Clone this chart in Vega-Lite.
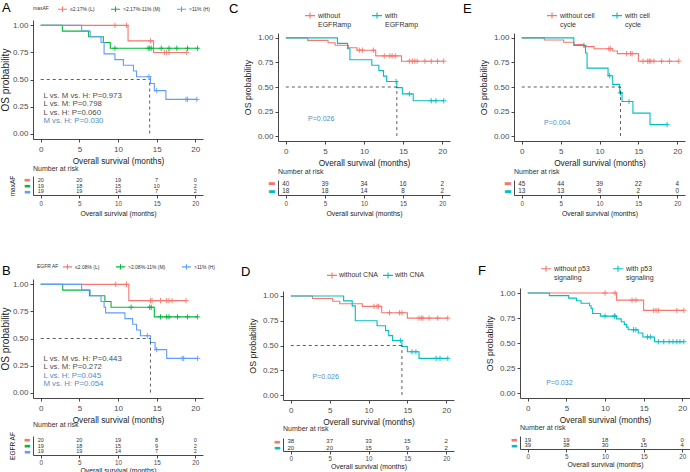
{
"$schema":"https://vega.github.io/schema/vega-lite/v6.json",
"padding":{"left":0,"top":1,"right":0,"bottom":0},
"background":"white",
"config":{"view":{"stroke":null},"font":"Liberation Sans",
 "axis":{"labelFont":"Liberation Sans","titleFont":"Liberation Sans","labelColor":"#4D4D4D","titleColor":"#222","titleFontWeight":"normal","domainColor":"#333","tickColor":"#333","grid":false,"domainWidth":0.9,"tickWidth":0.9,"labelFlush":false},
 "legend":{"labelFont":"Liberation Sans","titleFont":"Liberation Sans","labelColor":"#333","titleColor":"#333","titleFontWeight":"normal"},
 "title":{"font":"Liberation Sans","fontWeight":"normal","color":"#000"}},
"datasets":{
"spacer":[{"k":1}],
"A_km":[{"g":"≤2.17% (L)","t":0,"s":1},{"g":"≤2.17% (L)","t":11.3,"s":0.857},{"g":"≤2.17% (L)","t":14.6,"s":0.75},{"g":"≤2.17% (L)","t":18.9,"s":0.75},
{"g":">2.17%-11% (M)","t":0,"s":1},{"g":">2.17%-11% (M)","t":2.8,"s":0.947},{"g":">2.17%-11% (M)","t":6.2,"s":0.895},{"g":">2.17%-11% (M)","t":8.1,"s":0.842},{"g":">2.17%-11% (M)","t":9.0,"s":0.789},{"g":">2.17%-11% (M)","t":20.3,"s":0.789},
{"g":">11% (H)","t":0,"s":1},{"g":">11% (H)","t":5.3,"s":0.947},{"g":">11% (H)","t":6.4,"s":0.895},{"g":">11% (H)","t":7.8,"s":0.842},{"g":">11% (H)","t":8.2,"s":0.737},{"g":">11% (H)","t":9.6,"s":0.684},{"g":">11% (H)","t":10.7,"s":0.632},{"g":">11% (H)","t":12.0,"s":0.579},{"g":">11% (H)","t":12.4,"s":0.526},{"g":">11% (H)","t":14.2,"s":0.463},{"g":">11% (H)","t":14.7,"s":0.397},{"g":">11% (H)","t":16.2,"s":0.316},{"g":">11% (H)","t":20.2,"s":0.316}],
"A_cens":[{"g":"≤2.17% (L)","t":9.6,"s":1},{"g":"≤2.17% (L)","t":11.1,"s":1},{"g":"≤2.17% (L)","t":14.2,"s":0.857},{"g":"≤2.17% (L)","t":16.0,"s":0.75},{"g":"≤2.17% (L)","t":16.3,"s":0.75},{"g":"≤2.17% (L)","t":16.6,"s":0.75},{"g":"≤2.17% (L)","t":18.9,"s":0.75},
{"g":">2.17%-11% (M)","t":9.6,"s":0.789},{"g":">2.17%-11% (M)","t":13.9,"s":0.789},{"g":">2.17%-11% (M)","t":14.1,"s":0.789},{"g":">2.17%-11% (M)","t":14.3,"s":0.789},{"g":">2.17%-11% (M)","t":15.6,"s":0.789},{"g":">2.17%-11% (M)","t":16.6,"s":0.789},{"g":">2.17%-11% (M)","t":17.6,"s":0.789},{"g":">2.17%-11% (M)","t":19.0,"s":0.789},{"g":">2.17%-11% (M)","t":20.3,"s":0.789},
{"g":">11% (H)","t":14.0,"s":0.526},{"g":">11% (H)","t":15.0,"s":0.397},{"g":">11% (H)","t":18.8,"s":0.316},{"g":">11% (H)","t":19.0,"s":0.316},{"g":">11% (H)","t":20.2,"s":0.316}],
"A_med":[{"t":0,"s":0.5,"t2":14.1,"s2":0.5},{"t":14.1,"s":0,"t2":14.1,"s2":0.5}],
"A_p":[{"label":"L vs. M vs. H: P=0.973","t":0.35,"s":0.345,"sig":false},{"label":"L vs. M: P=0.798","t":0.35,"s":0.27,"sig":false},{"label":"L vs. H: P=0.060","t":0.35,"s":0.19,"sig":false},{"label":"M vs. H: P=0.030","t":0.35,"s":0.114,"sig":true}],
"A_risk":[{"g":"L","t":0,"n":20},{"g":"L","t":5,"n":20},{"g":"L","t":10,"n":19},{"g":"L","t":15,"n":7},{"g":"L","t":20,"n":0},
{"g":"M","t":0,"n":19},{"g":"M","t":5,"n":18},{"g":"M","t":10,"n":15},{"g":"M","t":15,"n":10},{"g":"M","t":20,"n":2},
{"g":"H","t":0,"n":19},{"g":"H","t":5,"n":19},{"g":"H","t":10,"n":14},{"g":"H","t":15,"n":7},{"g":"H","t":20,"n":2}],
"B_km":[{"g":"≤2.08% (L)","t":0,"s":1},{"g":"≤2.08% (L)","t":11.4,"s":0.85},{"g":"≤2.08% (L)","t":18.8,"s":0.85},
{"g":">2.08%-11% (M)","t":0,"s":1},{"g":">2.08%-11% (M)","t":2.85,"s":0.947},{"g":">2.08%-11% (M)","t":6.3,"s":0.895},{"g":">2.08%-11% (M)","t":8.3,"s":0.842},{"g":">2.08%-11% (M)","t":9.1,"s":0.789},{"g":">2.08%-11% (M)","t":14.7,"s":0.70},{"g":">2.08%-11% (M)","t":20.3,"s":0.70},
{"g":">11% (H)","t":0,"s":1},{"g":">11% (H)","t":5.3,"s":0.947},{"g":">11% (H)","t":6.4,"s":0.895},{"g":">11% (H)","t":7.8,"s":0.842},{"g":">11% (H)","t":8.2,"s":0.789},{"g":">11% (H)","t":8.4,"s":0.737},{"g":">11% (H)","t":10.9,"s":0.684},{"g":">11% (H)","t":11.9,"s":0.632},{"g":">11% (H)","t":12.4,"s":0.579},{"g":">11% (H)","t":12.9,"s":0.526},{"g":">11% (H)","t":14.2,"s":0.463},{"g":">11% (H)","t":14.8,"s":0.397},{"g":">11% (H)","t":16.3,"s":0.316},{"g":">11% (H)","t":20.3,"s":0.316}],
"B_cens":[{"g":"≤2.08% (L)","t":9.7,"s":1},{"g":"≤2.08% (L)","t":11.1,"s":1},{"g":"≤2.08% (L)","t":14.2,"s":0.85},{"g":"≤2.08% (L)","t":14.4,"s":0.85},{"g":"≤2.08% (L)","t":15.5,"s":0.85},{"g":"≤2.08% (L)","t":16.3,"s":0.85},{"g":"≤2.08% (L)","t":16.6,"s":0.85},{"g":"≤2.08% (L)","t":17.0,"s":0.85},{"g":"≤2.08% (L)","t":18.8,"s":0.85},
{"g":">2.08%-11% (M)","t":11.7,"s":0.789},{"g":">2.08%-11% (M)","t":14.1,"s":0.789},{"g":">2.08%-11% (M)","t":14.3,"s":0.789},{"g":">2.08%-11% (M)","t":15.5,"s":0.70},{"g":">2.08%-11% (M)","t":16.3,"s":0.70},{"g":">2.08%-11% (M)","t":16.6,"s":0.70},{"g":">2.08%-11% (M)","t":17.7,"s":0.70},{"g":">2.08%-11% (M)","t":19.0,"s":0.70},{"g":">2.08%-11% (M)","t":20.3,"s":0.70},
{"g":">11% (H)","t":13.8,"s":0.526},{"g":">11% (H)","t":15.0,"s":0.397},{"g":">11% (H)","t":18.3,"s":0.316},{"g":">11% (H)","t":18.5,"s":0.316},{"g":">11% (H)","t":20.3,"s":0.316}],
"B_med":[{"t":0,"s":0.5,"t2":14.2,"s2":0.5},{"t":14.2,"s":0,"t2":14.2,"s2":0.5}],
"B_p":[{"label":"L vs. M vs. H: P=0.443","t":0.35,"s":0.314,"sig":false},{"label":"L vs. M: P=0.272","t":0.35,"s":0.237,"sig":false},{"label":"L vs. H: P=0.045","t":0.35,"s":0.157,"sig":true},{"label":"M vs. H: P=0.054","t":0.35,"s":0.077,"sig":true}],
"B_risk":[{"g":"L","t":0,"n":20},{"g":"L","t":5,"n":20},{"g":"L","t":10,"n":19},{"g":"L","t":15,"n":8},{"g":"L","t":20,"n":0},
{"g":"M","t":0,"n":19},{"g":"M","t":5,"n":18},{"g":"M","t":10,"n":15},{"g":"M","t":15,"n":9},{"g":"M","t":20,"n":2},
{"g":"H","t":0,"n":19},{"g":"H","t":5,"n":19},{"g":"H","t":10,"n":14},{"g":"H","t":15,"n":7},{"g":"H","t":20,"n":2}],
"C_km":[{"g":"without EGFRamp","t":0,"s":1},{"g":"without EGFRamp","t":2.8,"s":0.975},{"g":"without EGFRamp","t":5.4,"s":0.95},{"g":"without EGFRamp","t":6.3,"s":0.925},{"g":"without EGFRamp","t":8.0,"s":0.90},{"g":"without EGFRamp","t":9.1,"s":0.875},{"g":"without EGFRamp","t":11.5,"s":0.817},{"g":"without EGFRamp","t":14.8,"s":0.763},{"g":"without EGFRamp","t":20.2,"s":0.763},
{"g":"with EGFRamp","t":0,"s":1},{"g":"with EGFRamp","t":6.6,"s":0.944},{"g":"with EGFRamp","t":7.9,"s":0.889},{"g":"with EGFRamp","t":8.2,"s":0.778},{"g":"with EGFRamp","t":11.0,"s":0.722},{"g":"with EGFRamp","t":11.9,"s":0.667},{"g":"with EGFRamp","t":12.5,"s":0.611},{"g":"with EGFRamp","t":12.9,"s":0.556},{"g":"with EGFRamp","t":14.2,"s":0.494},{"g":"with EGFRamp","t":14.9,"s":0.43},{"g":"with EGFRamp","t":16.3,"s":0.36},{"g":"with EGFRamp","t":20.2,"s":0.36}],
"C_cens":[{"g":"without EGFRamp","t":9.4,"s":0.875},{"g":"without EGFRamp","t":9.8,"s":0.875},{"g":"without EGFRamp","t":11.2,"s":0.875},{"g":"without EGFRamp","t":12.6,"s":0.817},{"g":"without EGFRamp","t":13.3,"s":0.817},{"g":"without EGFRamp","t":13.6,"s":0.817},{"g":"without EGFRamp","t":14.0,"s":0.817},{"g":"without EGFRamp","t":15.8,"s":0.763},{"g":"without EGFRamp","t":16.2,"s":0.763},{"g":"without EGFRamp","t":16.5,"s":0.763},{"g":"without EGFRamp","t":16.8,"s":0.763},{"g":"without EGFRamp","t":17.8,"s":0.763},{"g":"without EGFRamp","t":18.6,"s":0.763},{"g":"without EGFRamp","t":19.4,"s":0.763},{"g":"without EGFRamp","t":20.2,"s":0.763},
{"g":"with EGFRamp","t":14.1,"s":0.556},{"g":"with EGFRamp","t":15.8,"s":0.43},{"g":"with EGFRamp","t":18.6,"s":0.36},{"g":"with EGFRamp","t":19.2,"s":0.36},{"g":"with EGFRamp","t":20.2,"s":0.36}],
"C_med":[{"t":0,"s":0.5,"t2":14.2,"s2":0.5},{"t":14.2,"s":0,"t2":14.2,"s2":0.5}],
"C_p":[{"label":"P=0.026","t":2.85,"s":0.17,"sig":true}],
"C_risk":[{"g":"without","t":0,"n":40},{"g":"without","t":5,"n":39},{"g":"without","t":10,"n":34},{"g":"without","t":15,"n":16},{"g":"without","t":20,"n":2},
{"g":"with","t":0,"n":18},{"g":"with","t":5,"n":18},{"g":"with","t":10,"n":14},{"g":"with","t":15,"n":8},{"g":"with","t":20,"n":2}],
"D_km":[{"g":"without CNA","t":0,"s":1},{"g":"without CNA","t":2.8,"s":0.974},{"g":"without CNA","t":5.4,"s":0.947},{"g":"without CNA","t":6.3,"s":0.921},{"g":"without CNA","t":9.2,"s":0.895},{"g":"without CNA","t":11.7,"s":0.83},{"g":"without CNA","t":15.0,"s":0.776},{"g":"without CNA","t":20.2,"s":0.776},
{"g":"with CNA","t":0,"s":1},{"g":"with CNA","t":6.8,"s":0.95},{"g":"with CNA","t":7.9,"s":0.90},{"g":"with CNA","t":8.3,"s":0.75},{"g":"with CNA","t":11.1,"s":0.70},{"g":"with CNA","t":12.2,"s":0.65},{"g":"with CNA","t":12.6,"s":0.60},{"g":"with CNA","t":13.1,"s":0.55},{"g":"with CNA","t":14.3,"s":0.49},{"g":"with CNA","t":15.0,"s":0.437},{"g":"with CNA","t":16.5,"s":0.37},{"g":"with CNA","t":20.2,"s":0.37}],
"D_cens":[{"g":"without CNA","t":10.7,"s":0.895},{"g":"without CNA","t":11.1,"s":0.895},{"g":"without CNA","t":11.3,"s":0.895},{"g":"without CNA","t":12.7,"s":0.83},{"g":"without CNA","t":14.0,"s":0.83},{"g":"without CNA","t":14.3,"s":0.83},{"g":"without CNA","t":16.5,"s":0.776},{"g":"without CNA","t":16.8,"s":0.776},{"g":"without CNA","t":17.0,"s":0.776},{"g":"without CNA","t":17.8,"s":0.776},{"g":"without CNA","t":18.9,"s":0.776},{"g":"without CNA","t":20.2,"s":0.776},
{"g":"with CNA","t":14.1,"s":0.55},{"g":"with CNA","t":15.6,"s":0.437},{"g":"with CNA","t":16.1,"s":0.437},{"g":"with CNA","t":18.7,"s":0.37},{"g":"with CNA","t":19.2,"s":0.37},{"g":"with CNA","t":20.2,"s":0.37}],
"D_med":[{"t":0,"s":0.5,"t2":14.3,"s2":0.5},{"t":14.3,"s":0,"t2":14.3,"s2":0.5}],
"D_p":[{"label":"P=0.026","t":2.8,"s":0.185,"sig":true}],
"D_risk":[{"g":"without","t":0,"n":38},{"g":"without","t":5,"n":37},{"g":"without","t":10,"n":33},{"g":"without","t":15,"n":15},{"g":"without","t":20,"n":2},
{"g":"with","t":0,"n":20},{"g":"with","t":5,"n":20},{"g":"with","t":10,"n":15},{"g":"with","t":15,"n":9},{"g":"with","t":20,"n":2}],
"E_km":[{"g":"without cell cycle","t":0,"s":1},{"g":"without cell cycle","t":2.9,"s":0.978},{"g":"without cell cycle","t":5.4,"s":0.956},{"g":"without cell cycle","t":6.7,"s":0.933},{"g":"without cell cycle","t":8.0,"s":0.911},{"g":"without cell cycle","t":9.3,"s":0.889},{"g":"without cell cycle","t":11.7,"s":0.866},{"g":"without cell cycle","t":12.3,"s":0.84},{"g":"without cell cycle","t":15.0,"s":0.763},{"g":"without cell cycle","t":20.2,"s":0.763},
{"g":"with cell cycle","t":0,"s":1},{"g":"with cell cycle","t":6.7,"s":0.923},{"g":"with cell cycle","t":8.2,"s":0.846},{"g":"with cell cycle","t":8.4,"s":0.692},{"g":"with cell cycle","t":11.1,"s":0.615},{"g":"with cell cycle","t":11.7,"s":0.527},{"g":"with cell cycle","t":12.6,"s":0.44},{"g":"with cell cycle","t":12.9,"s":0.352},{"g":"with cell cycle","t":14.3,"s":0.234},{"g":"with cell cycle","t":16.5,"s":0.117},{"g":"with cell cycle","t":18.7,"s":0.117}],
"E_cens":[{"g":"without cell cycle","t":11.2,"s":0.889},{"g":"without cell cycle","t":11.4,"s":0.889},{"g":"without cell cycle","t":13.5,"s":0.84},{"g":"without cell cycle","t":14.0,"s":0.84},{"g":"without cell cycle","t":14.2,"s":0.84},{"g":"without cell cycle","t":15.6,"s":0.763},{"g":"without cell cycle","t":16.2,"s":0.763},{"g":"without cell cycle","t":16.4,"s":0.763},{"g":"without cell cycle","t":16.6,"s":0.763},{"g":"without cell cycle","t":17.0,"s":0.763},{"g":"without cell cycle","t":18.0,"s":0.763},{"g":"without cell cycle","t":19.0,"s":0.763},{"g":"without cell cycle","t":20.2,"s":0.763},
{"g":"with cell cycle","t":8.0,"s":0.923},{"g":"with cell cycle","t":11.3,"s":0.615},{"g":"with cell cycle","t":12.7,"s":0.44},{"g":"with cell cycle","t":13.8,"s":0.352},{"g":"with cell cycle","t":18.7,"s":0.117}],
"E_med":[{"t":0,"s":0.5,"t2":12.7,"s2":0.5},{"t":12.7,"s":0,"t2":12.7,"s2":0.5}],
"E_p":[{"label":"P=0.004","t":2.87,"s":0.13,"sig":true}],
"E_risk":[{"g":"without","t":0,"n":45},{"g":"without","t":5,"n":44},{"g":"without","t":10,"n":39},{"g":"without","t":15,"n":22},{"g":"without","t":20,"n":4},
{"g":"with","t":0,"n":13},{"g":"with","t":5,"n":13},{"g":"with","t":10,"n":9},{"g":"with","t":15,"n":2},{"g":"with","t":20,"n":0}],
"F_km":[{"g":"without p53 signaling","t":0,"s":1},{"g":"without p53 signaling","t":11.5,"s":0.929},{"g":"without p53 signaling","t":15.0,"s":0.826},{"g":"without p53 signaling","t":20.2,"s":0.826},
{"g":"with p53 signaling","t":0,"s":1},{"g":"with p53 signaling","t":2.8,"s":0.974},{"g":"with p53 signaling","t":5.3,"s":0.949},{"g":"with p53 signaling","t":6.3,"s":0.923},{"g":"with p53 signaling","t":6.9,"s":0.897},{"g":"with p53 signaling","t":8.0,"s":0.872},{"g":"with p53 signaling","t":8.2,"s":0.846},{"g":"with p53 signaling","t":8.4,"s":0.795},{"g":"with p53 signaling","t":9.4,"s":0.769},{"g":"with p53 signaling","t":11.5,"s":0.741},{"g":"with p53 signaling","t":12.1,"s":0.713},{"g":"with p53 signaling","t":12.5,"s":0.686},{"g":"with p53 signaling","t":12.8,"s":0.659},{"g":"with p53 signaling","t":13.0,"s":0.632},{"g":"with p53 signaling","t":14.3,"s":0.60},{"g":"with p53 signaling","t":14.9,"s":0.56},{"g":"with p53 signaling","t":16.4,"s":0.513},{"g":"with p53 signaling","t":20.2,"s":0.513}],
"F_cens":[{"g":"without p53 signaling","t":10.0,"s":1},{"g":"without p53 signaling","t":11.3,"s":1},{"g":"without p53 signaling","t":13.5,"s":0.929},{"g":"without p53 signaling","t":14.0,"s":0.929},{"g":"without p53 signaling","t":16.3,"s":0.826},{"g":"without p53 signaling","t":16.6,"s":0.826},{"g":"without p53 signaling","t":16.9,"s":0.826},{"g":"without p53 signaling","t":19.3,"s":0.826},{"g":"without p53 signaling","t":20.2,"s":0.826},
{"g":"with p53 signaling","t":10.0,"s":0.769},{"g":"with p53 signaling","t":11.2,"s":0.769},{"g":"with p53 signaling","t":11.3,"s":0.769},{"g":"with p53 signaling","t":13.7,"s":0.632},{"g":"with p53 signaling","t":14.0,"s":0.632},{"g":"with p53 signaling","t":15.5,"s":0.56},{"g":"with p53 signaling","t":15.9,"s":0.56},{"g":"with p53 signaling","t":16.9,"s":0.513},{"g":"with p53 signaling","t":17.6,"s":0.513},{"g":"with p53 signaling","t":18.3,"s":0.513},{"g":"with p53 signaling","t":18.8,"s":0.513},{"g":"with p53 signaling","t":19.3,"s":0.513},{"g":"with p53 signaling","t":19.7,"s":0.513},{"g":"with p53 signaling","t":20.2,"s":0.513}],
"F_p":[{"label":"P=0.032","t":2.4,"s":0.10,"sig":true}],
"F_risk":[{"g":"without","t":0,"n":19},{"g":"without","t":5,"n":19},{"g":"without","t":10,"n":18},{"g":"without","t":15,"n":9},{"g":"without","t":20,"n":0},
{"g":"with","t":0,"n":39},{"g":"with","t":5,"n":38},{"g":"with","t":10,"n":30},{"g":"with","t":15,"n":15},{"g":"with","t":20,"n":4}]
},
"columns":2,"align":"none",
"spacing":14,
"resolve":{"scale":{"color":"independent"}},
"concat":[
 {"columns":1,"align":"none","concat":[
  {"vconcat":[
   {"width":170,"height":119,
    "title":{"text":"A","anchor":"start","frame":"group","fontSize":13,"dx":-31,"dy":15.5},
    "encoding":{"x":{"field":"t","type":"quantitative","scale":{"domain":[-1,21],"nice":false,"zero":false},"axis":{"values":[0,5,10,15,20],"title":"Overall survival (months)","labelFontSize":8,"titleFontSize":8.3,"tickSize":3,"labelPadding":3,"titlePadding":3}},
     "y":{"field":"s","type":"quantitative","scale":{"domain":[-0.05,1.05],"nice":false,"zero":false},"axis":{"values":[0,0.25,0.5,0.75,1],"format":".2f","title":"OS probability","labelFontSize":8,"titleFontSize":10,"tickSize":3,"labelPadding":2,"titlePadding":2}}},
    "layer":[
     {"data":{"name":"A_km"},"mark":{"type":"line","interpolate":"step-after","strokeWidth":1.1},"encoding":{"color":{"field":"g","type":"nominal","scale":{"domain":["≤2.17% (L)",">2.17%-11% (M)",">11% (H)"],"range":["#F8766D","#00BA38","#619CFF"]},"legend":{"title":"maxAF","orient":"none","legendX":0,"legendY":-16.6,"direction":"horizontal","titleOrient":"left","titleFontSize":5,"labelFontSize":5,"symbolType":"M-1,0H1M0,-0.6V0.6","symbolSize":81,"symbolStrokeWidth":1.1,"columnPadding":13,"labelOffset":2,"titlePadding":8}}}},
     {"data":{"name":"A_cens"},"mark":{"type":"point","shape":"M-1,0H1M0,-1V1","filled":false,"size":28,"strokeWidth":0.9,"opacity":1},"encoding":{"color":{"field":"g","type":"nominal","scale":{"domain":["≤2.17% (L)",">2.17%-11% (M)",">11% (H)"],"range":["#F8766D","#00BA38","#619CFF"]}}}},
     {"data":{"name":"A_med"},"mark":{"type":"rule","strokeDash":[3,3],"color":"#333","strokeWidth":0.8},"encoding":{"x2":{"field":"t2"},"y2":{"field":"s2"}}},
     {"data":{"name":"A_p"},"mark":{"type":"text","align":"left","baseline":"middle","fontSize":7.8},"encoding":{"text":{"field":"label"},"color":{"condition":{"test":"datum.sig","value":"#4B8FCB"},"value":"#4D4D4D"}}}
    ]},
   {"width":170,"height":19,"data":{"name":"A_risk"},
    "title":{"text":"Number at risk","anchor":"start","frame":"group","fontSize":7,"color":"#333","offset":3},
    "mark":{"type":"text","fontSize":5.5,"color":"#333"},
    "encoding":{"x":{"field":"t","type":"quantitative","scale":{"domain":[-1,21],"nice":false,"zero":false},"axis":{"values":[0,5,10,15,20],"title":"Overall survival (months)","labelFontSize":6.3,"titleFontSize":6.9,"tickSize":3,"labelPadding":2,"titlePadding":4}},
     "y":{"field":"g","type":"nominal","sort":null,"scale":{"type":"point","domain":["L","M","H"],"padding":0.7},"axis":{"title":"maxAF","labelExpr":"'▬'","labelFont":"DejaVu Sans","labelFontSize":7,"labelColor":{"condition":[{"test":"datum.value === 'L'","value":"#F8766D"},{"test":"datum.value === 'M'","value":"#00BA38"}],"value":"#619CFF"},"ticks":false,"labelPadding":3,"titleFontSize":6.5,"titlePadding":8}},
     "text":{"field":"n","type":"quantitative"}}}
  ],"spacing":37,"bounds":"flush","resolve":{"scale":{"color":"independent"}}},
  {"vconcat":[
   {"width":170,"height":119,
    "title":{"text":"B","anchor":"start","frame":"group","fontSize":13,"dx":-31,"dy":20.9},
    "encoding":{"x":{"field":"t","type":"quantitative","scale":{"domain":[-1,21],"nice":false,"zero":false},"axis":{"values":[0,5,10,15,20],"title":"Overall survival (months)","labelFontSize":8,"titleFontSize":8.3,"tickSize":3,"labelPadding":3,"titlePadding":3}},
     "y":{"field":"s","type":"quantitative","scale":{"domain":[-0.05,1.05],"nice":false,"zero":false},"axis":{"values":[0,0.25,0.5,0.75,1],"format":".2f","title":"OS probability","labelFontSize":8,"titleFontSize":10,"tickSize":3,"labelPadding":2,"titlePadding":2}}},
    "layer":[
     {"data":{"name":"B_km"},"mark":{"type":"line","interpolate":"step-after","strokeWidth":1.1},"encoding":{"color":{"field":"g","type":"nominal","scale":{"domain":["≤2.08% (L)",">2.08%-11% (M)",">11% (H)"],"range":["#F8766D","#00BA38","#619CFF"]},"legend":{"title":"EGFR AF","orient":"none","legendX":4,"legendY":-17.9,"direction":"horizontal","titleOrient":"left","titleFontSize":5,"labelFontSize":5,"symbolType":"M-1,0H1M0,-0.6V0.6","symbolSize":81,"symbolStrokeWidth":1.1,"columnPadding":13,"labelOffset":2,"titlePadding":3}}}},
     {"data":{"name":"B_cens"},"mark":{"type":"point","shape":"M-1,0H1M0,-1V1","filled":false,"size":28,"strokeWidth":0.9,"opacity":1},"encoding":{"color":{"field":"g","type":"nominal","scale":{"domain":["≤2.08% (L)",">2.08%-11% (M)",">11% (H)"],"range":["#F8766D","#00BA38","#619CFF"]}}}},
     {"data":{"name":"B_med"},"mark":{"type":"rule","strokeDash":[3,3],"color":"#333","strokeWidth":0.8},"encoding":{"x2":{"field":"t2"},"y2":{"field":"s2"}}},
     {"data":{"name":"B_p"},"mark":{"type":"text","align":"left","baseline":"middle","fontSize":7.8},"encoding":{"text":{"field":"label"},"color":{"condition":{"test":"datum.sig","value":"#4B8FCB"},"value":"#4D4D4D"}}}
    ]},
   {"width":170,"height":19,"data":{"name":"B_risk"},
    "title":{"text":"Number at risk","anchor":"start","frame":"group","fontSize":7,"color":"#333","offset":3},
    "mark":{"type":"text","fontSize":5.5,"color":"#333"},
    "encoding":{"x":{"field":"t","type":"quantitative","scale":{"domain":[-1,21],"nice":false,"zero":false},"axis":{"values":[0,5,10,15,20],"title":"Overall survival (months)","labelFontSize":6.3,"titleFontSize":6.9,"tickSize":3,"labelPadding":1,"titlePadding":2}},
     "y":{"field":"g","type":"nominal","sort":null,"scale":{"type":"point","domain":["L","M","H"],"padding":0.7},"axis":{"title":"EGFR AF","labelExpr":"'▬'","labelFont":"DejaVu Sans","labelFontSize":7,"labelColor":{"condition":[{"test":"datum.value === 'L'","value":"#F8766D"},{"test":"datum.value === 'M'","value":"#00BA38"}],"value":"#619CFF"},"ticks":false,"labelPadding":3,"titleFontSize":6.5,"titlePadding":8}},
     "text":{"field":"n","type":"quantitative"}}}
  ],"spacing":38,"bounds":"flush","resolve":{"scale":{"color":"independent"}}}
 ],"spacing":44,"resolve":{"scale":{"color":"independent"}}},
 {"columns":2,"align":"none","spacing":9,"resolve":{"scale":{"color":"independent"}},"concat":[
  {"columns":1,"align":"none","concat":[
   {"vconcat":[
    {"width":1,"height":1,"data":{"name":"spacer"},"mark":{"type":"point","opacity":0}},
    {"vconcat":[
    {"width":172,"height":108,
     "title":{"text":"C","anchor":"start","frame":"group","fontSize":13,"dx":-49,"dy":10.5},
     "encoding":{"x":{"field":"t","type":"quantitative","scale":{"domain":[-1,21],"nice":false,"zero":false},"axis":{"values":[0,5,10,15,20],"title":"Overall survival (months)","labelFontSize":8,"titleFontSize":8.3,"tickSize":3,"labelPadding":3,"titlePadding":3}},
      "y":{"field":"s","type":"quantitative","scale":{"domain":[-0.05,1.05],"nice":false,"zero":false},"axis":{"values":[0,0.25,0.5,0.75,1],"format":".2f","title":"OS probability","labelFontSize":8,"titleFontSize":8.8,"tickSize":3,"labelPadding":2,"titlePadding":5}}},
     "layer":[
      {"data":{"name":"C_km"},"mark":{"type":"line","interpolate":"step-after","strokeWidth":1.1},"encoding":{"color":{"field":"g","type":"nominal","scale":{"domain":["without EGFRamp","with EGFRamp"],"range":["#F8766D","#00BFC4"]},"legend":{"title":null,"orient":"none","legendX":26,"legendY":-23.4,"direction":"horizontal","labelFontSize":7,"labelExpr":"[slice(datum.label, 0, lastindexof(datum.label, ' ')), slice(datum.label, lastindexof(datum.label, ' ') + 1)]","symbolType":"M-1,0H1M0,-0.6V0.6","symbolSize":100,"symbolStrokeWidth":1.1,"columnPadding":17,"labelOffset":2}}}},
      {"data":{"name":"C_cens"},"mark":{"type":"point","shape":"M-1,0H1M0,-1V1","filled":false,"size":28,"strokeWidth":0.9,"opacity":1},"encoding":{"color":{"field":"g","type":"nominal","scale":{"domain":["without EGFRamp","with EGFRamp"],"range":["#F8766D","#00BFC4"]}}}},
      {"data":{"name":"C_med"},"mark":{"type":"rule","strokeDash":[3,3],"color":"#333","strokeWidth":0.8},"encoding":{"x2":{"field":"t2"},"y2":{"field":"s2"}}},
      {"data":{"name":"C_p"},"mark":{"type":"text","align":"left","baseline":"middle","fontSize":7},"encoding":{"text":{"field":"label"},"color":{"condition":{"test":"datum.sig","value":"#4B8FCB"},"value":"#4D4D4D"}}}
     ]},
    {"width":172,"height":15,"data":{"name":"C_risk"},
     "title":{"text":"Number at risk","anchor":"start","frame":"group","fontSize":7,"color":"#333","offset":5},
     "mark":{"type":"text","fontSize":6.3,"color":"#333"},
     "encoding":{"x":{"field":"t","type":"quantitative","scale":{"domain":[-1,21],"nice":false,"zero":false},"axis":{"values":[0,5,10,15,20],"title":"Overall survival (months)","labelFontSize":6.3,"titleFontSize":6.9,"tickSize":3,"labelPadding":2,"titlePadding":4}},
      "y":{"field":"g","type":"nominal","sort":null,"scale":{"type":"point","domain":["without","with"],"padding":0.5},"axis":{"title":null,"labelExpr":"'▬'","labelFont":"DejaVu Sans","labelFontSize":8,"labelColor":{"condition":{"test":"datum.value === 'without'","value":"#F8766D"},"value":"#00BFC4"},"ticks":false,"labelPadding":3}},
      "text":{"field":"n","type":"quantitative"}}}
    ],"spacing":39,"bounds":"flush","resolve":{"scale":{"color":"independent"}}}
   ],"spacing":12,"bounds":"flush","resolve":{"scale":{"color":"independent"}}},
   {"hconcat":[
    {"width":1,"height":1,"data":{"name":"spacer"},"mark":{"type":"point","opacity":0}},
    {"vconcat":[
    {"width":171,"height":109,
     "title":{"text":"D","anchor":"start","frame":"group","fontSize":13,"dx":-42,"dy":13.5},
     "encoding":{"x":{"field":"t","type":"quantitative","scale":{"domain":[-1,21],"nice":false,"zero":false},"axis":{"values":[0,5,10,15,20],"title":"Overall survival (months)","labelFontSize":8,"titleFontSize":8.3,"tickSize":3,"labelPadding":3,"titlePadding":3}},
      "y":{"field":"s","type":"quantitative","scale":{"domain":[-0.05,1.05],"nice":false,"zero":false},"axis":{"values":[0,0.25,0.5,0.75,1],"format":".2f","title":"OS probability","labelFontSize":8,"titleFontSize":8.8,"tickSize":3,"labelPadding":2,"titlePadding":5}}},
     "layer":[
      {"data":{"name":"D_km"},"mark":{"type":"line","interpolate":"step-after","strokeWidth":1.1},"encoding":{"color":{"field":"g","type":"nominal","scale":{"domain":["without CNA","with CNA"],"range":["#F8766D","#00BFC4"]},"legend":{"title":null,"orient":"none","legendX":43,"legendY":-22,"direction":"horizontal","labelFontSize":7,"symbolType":"M-1,0H1M0,-0.6V0.6","symbolSize":100,"symbolStrokeWidth":1.1,"columnPadding":2,"labelOffset":1}}}},
      {"data":{"name":"D_cens"},"mark":{"type":"point","shape":"M-1,0H1M0,-1V1","filled":false,"size":28,"strokeWidth":0.9,"opacity":1},"encoding":{"color":{"field":"g","type":"nominal","scale":{"domain":["without CNA","with CNA"],"range":["#F8766D","#00BFC4"]}}}},
      {"data":{"name":"D_med"},"mark":{"type":"rule","strokeDash":[3,3],"color":"#333","strokeWidth":0.8},"encoding":{"x2":{"field":"t2"},"y2":{"field":"s2"}}},
      {"data":{"name":"D_p"},"mark":{"type":"text","align":"left","baseline":"middle","fontSize":7},"encoding":{"text":{"field":"label"},"color":{"condition":{"test":"datum.sig","value":"#4B8FCB"},"value":"#4D4D4D"}}}
     ]},
    {"width":171,"height":13,"data":{"name":"D_risk"},
     "title":{"text":"Number at risk","anchor":"start","frame":"group","fontSize":7,"color":"#333","offset":5},
     "mark":{"type":"text","fontSize":6,"color":"#333"},
     "encoding":{"x":{"field":"t","type":"quantitative","scale":{"domain":[-1,21],"nice":false,"zero":false},"axis":{"values":[0,5,10,15,20],"title":"Overall survival (months)","labelFontSize":6.3,"titleFontSize":6.9,"tickSize":3,"labelPadding":1,"titlePadding":2}},
      "y":{"field":"g","type":"nominal","sort":null,"scale":{"type":"point","domain":["without","with"],"padding":0.5},"axis":{"title":null,"labelExpr":"'▬'","labelFont":"DejaVu Sans","labelFontSize":7,"labelColor":{"condition":{"test":"datum.value === 'without'","value":"#F8766D"},"value":"#00BFC4"},"ticks":false,"labelPadding":3}},
      "text":{"field":"n","type":"quantitative"}}}
    ],"spacing":38,"bounds":"flush","resolve":{"scale":{"color":"independent"}}}
   ],"spacing":4,"bounds":"flush","resolve":{"scale":{"color":"independent"}}}
  ],"spacing":48,"resolve":{"scale":{"color":"independent"}}},
  {"columns":1,"align":"none","concat":[
   {"vconcat":[
    {"width":1,"height":1,"data":{"name":"spacer"},"mark":{"type":"point","opacity":0}},
    {"vconcat":[
    {"width":171,"height":108,
     "title":{"text":"E","anchor":"start","frame":"group","fontSize":13,"dx":-51,"dy":10.5},
     "encoding":{"x":{"field":"t","type":"quantitative","scale":{"domain":[-1,21],"nice":false,"zero":false},"axis":{"values":[0,5,10,15,20],"title":"Overall survival (months)","labelFontSize":8,"titleFontSize":8.3,"tickSize":3,"labelPadding":3,"titlePadding":3}},
      "y":{"field":"s","type":"quantitative","scale":{"domain":[-0.05,1.05],"nice":false,"zero":false},"axis":{"values":[0,0.25,0.5,0.75,1],"format":".2f","title":"OS probability","labelFontSize":8,"titleFontSize":8.8,"tickSize":3,"labelPadding":2,"titlePadding":5}}},
     "layer":[
      {"data":{"name":"E_km"},"mark":{"type":"line","interpolate":"step-after","strokeWidth":1.1},"encoding":{"color":{"field":"g","type":"nominal","scale":{"domain":["without cell cycle","with cell cycle"],"range":["#F8766D","#00BFC4"]},"legend":{"title":null,"orient":"none","legendX":32,"legendY":-23.4,"direction":"horizontal","labelFontSize":7,"labelExpr":"[slice(datum.label, 0, lastindexof(datum.label, ' ')), slice(datum.label, lastindexof(datum.label, ' ') + 1)]","symbolType":"M-1,0H1M0,-0.6V0.6","symbolSize":100,"symbolStrokeWidth":1.1,"columnPadding":14,"labelOffset":2}}}},
      {"data":{"name":"E_cens"},"mark":{"type":"point","shape":"M-1,0H1M0,-1V1","filled":false,"size":28,"strokeWidth":0.9,"opacity":1},"encoding":{"color":{"field":"g","type":"nominal","scale":{"domain":["without cell cycle","with cell cycle"],"range":["#F8766D","#00BFC4"]}}}},
      {"data":{"name":"E_med"},"mark":{"type":"rule","strokeDash":[3,3],"color":"#333","strokeWidth":0.8},"encoding":{"x2":{"field":"t2"},"y2":{"field":"s2"}}},
      {"data":{"name":"E_p"},"mark":{"type":"text","align":"left","baseline":"middle","fontSize":7},"encoding":{"text":{"field":"label"},"color":{"condition":{"test":"datum.sig","value":"#4B8FCB"},"value":"#4D4D4D"}}}
     ]},
    {"width":171,"height":15,"data":{"name":"E_risk"},
     "title":{"text":"Number at risk","anchor":"start","frame":"group","fontSize":7,"color":"#333","offset":5},
     "mark":{"type":"text","fontSize":6.3,"color":"#333"},
     "encoding":{"x":{"field":"t","type":"quantitative","scale":{"domain":[-1,21],"nice":false,"zero":false},"axis":{"values":[0,5,10,15,20],"title":"Overall survival (months)","labelFontSize":6.3,"titleFontSize":6.9,"tickSize":3,"labelPadding":2,"titlePadding":4}},
      "y":{"field":"g","type":"nominal","sort":null,"scale":{"type":"point","domain":["without","with"],"padding":0.5},"axis":{"title":null,"labelExpr":"'▬'","labelFont":"DejaVu Sans","labelFontSize":8,"labelColor":{"condition":{"test":"datum.value === 'without'","value":"#F8766D"},"value":"#00BFC4"},"ticks":false,"labelPadding":3}},
      "text":{"field":"n","type":"quantitative"}}}
    ],"spacing":39,"bounds":"flush","resolve":{"scale":{"color":"independent"}}}
   ],"spacing":12,"bounds":"flush","resolve":{"scale":{"color":"independent"}}},
   {"hconcat":[
    {"width":1,"height":1,"data":{"name":"spacer"},"mark":{"type":"point","opacity":0}},
    {"vconcat":[
    {"width":170,"height":110,
     "title":{"text":"F","anchor":"start","frame":"group","fontSize":13,"dx":-42,"dy":18.7},
     "encoding":{"x":{"field":"t","type":"quantitative","scale":{"domain":[-1,21],"nice":false,"zero":false},"axis":{"values":[0,5,10,15,20],"title":"Overall survival (months)","labelFontSize":8,"titleFontSize":8.3,"tickSize":3,"labelPadding":3,"titlePadding":3}},
      "y":{"field":"s","type":"quantitative","scale":{"domain":[-0.05,1.05],"nice":false,"zero":false},"axis":{"values":[0,0.25,0.5,0.75,1],"format":".2f","title":"OS probability","labelFontSize":8,"titleFontSize":8.8,"tickSize":3,"labelPadding":2,"titlePadding":5}}},
     "layer":[
      {"data":{"name":"F_km"},"mark":{"type":"line","interpolate":"step-after","strokeWidth":1.1},"encoding":{"color":{"field":"g","type":"nominal","scale":{"domain":["without p53 signaling","with p53 signaling"],"range":["#F8766D","#00BFC4"]},"legend":{"title":null,"orient":"none","legendX":20,"legendY":-25.2,"direction":"horizontal","labelFontSize":7,"labelExpr":"[slice(datum.label, 0, lastindexof(datum.label, ' ')), slice(datum.label, lastindexof(datum.label, ' ') + 1)]","symbolType":"M-1,0H1M0,-0.6V0.6","symbolSize":100,"symbolStrokeWidth":1.1,"columnPadding":20,"labelOffset":2}}}},
      {"data":{"name":"F_cens"},"mark":{"type":"point","shape":"M-1,0H1M0,-1V1","filled":false,"size":28,"strokeWidth":0.9,"opacity":1},"encoding":{"color":{"field":"g","type":"nominal","scale":{"domain":["without p53 signaling","with p53 signaling"],"range":["#F8766D","#00BFC4"]}}}},
      {"data":{"name":"F_p"},"mark":{"type":"text","align":"left","baseline":"middle","fontSize":7},"encoding":{"text":{"field":"label"},"color":{"condition":{"test":"datum.sig","value":"#4B8FCB"},"value":"#4D4D4D"}}}
     ]},
    {"width":170,"height":13,"data":{"name":"F_risk"},
     "title":{"text":"Number at risk","anchor":"start","frame":"group","fontSize":7,"color":"#333","offset":5},
     "mark":{"type":"text","fontSize":6,"color":"#333"},
     "encoding":{"x":{"field":"t","type":"quantitative","scale":{"domain":[-1,21],"nice":false,"zero":false},"axis":{"values":[0,5,10,15,20],"title":"Overall survival (months)","labelFontSize":6.3,"titleFontSize":6.9,"tickSize":3,"labelPadding":1,"titlePadding":2}},
      "y":{"field":"g","type":"nominal","sort":null,"scale":{"type":"point","domain":["without","with"],"padding":0.6},"axis":{"title":null,"labelExpr":"'▬'","labelFont":"DejaVu Sans","labelFontSize":7,"labelColor":{"condition":{"test":"datum.value === 'without'","value":"#F8766D"},"value":"#00BFC4"},"ticks":false,"labelPadding":3}},
      "text":{"field":"n","type":"quantitative"}}}
    ],"spacing":38,"bounds":"flush","resolve":{"scale":{"color":"independent"}}}
   ],"spacing":5,"bounds":"flush","resolve":{"scale":{"color":"independent"}}}
  ],"spacing":45,"resolve":{"scale":{"color":"independent"}}}
 ]}
]
}
